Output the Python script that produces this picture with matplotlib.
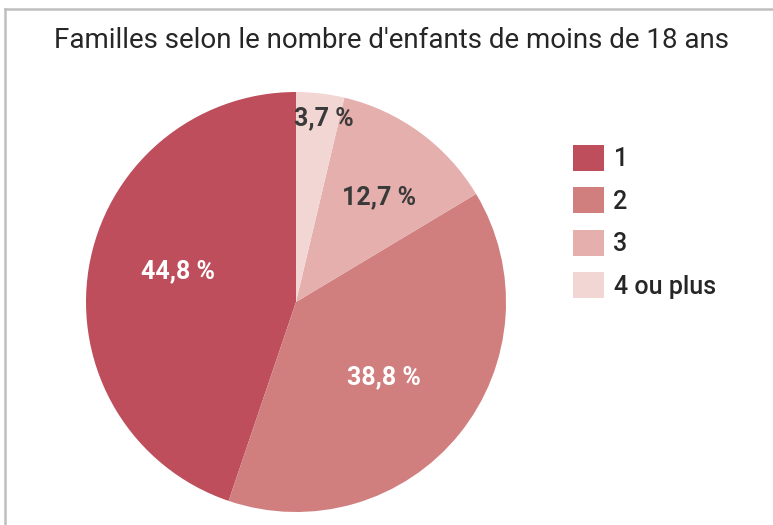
import numpy as np
import matplotlib.pyplot as plt
from matplotlib.patches import Patch
from matplotlib.lines import Line2D

# data
categories = ['1', '2', '3', '4 ou plus']
values = [44.8, 38.8, 12.7, 3.7]
value_labels = ['44,8 %', '38,8 %', '12,7 %', '3,7 %']

colors = ['#BE4E5C', '#D17E7E', '#E4AFAD', '#F2D6D4']
label_colors = ['white', 'white', '#3A3A3A', '#3A3A3A']
# label placement: distance from centre along the wedge middle, plus a small nudge
label_dist = [0.57, 0.54, 0.62, 0.88]
label_nudge = [(0.0, 0.055), (0.0, -0.02), (0.03, 0.0), (0.03, 0.0)]

plt.rcParams['font.family'] = ['Roboto', 'DejaVu Sans']

W, H = 773, 525
fig = plt.figure(figsize=(W / 100, H / 100), dpi=100)

# pie axes: centre (296, 302) px, radius 210 px
cx, cy, r = 296, 302, 210
ax = fig.add_axes([(cx - r) / W, (H - cy - r) / H, 2 * r / W, 2 * r / H])
wedges, _ = ax.pie(values, colors=colors, startangle=90, counterclock=True,
                   radius=1, wedgeprops=dict(linewidth=0))
ax.set_xlim(-1, 1)
ax.set_ylim(-1, 1)
ax.set_aspect('equal')
ax.axis('off')

for w, lab, c, d, (dx, dy) in zip(wedges, value_labels, label_colors, label_dist, label_nudge):
    ang = np.deg2rad((w.theta1 + w.theta2) / 2)
    ax.text(d * np.cos(ang) + dx, d * np.sin(ang) + dy, lab,
            ha='center', va='center', color=c, fontsize=18, fontweight='bold')

fig.text(392 / W, 1 - 40 / H, "Familles selon le nombre d'enfants de moins de 18 ans",
         ha='center', va='center', fontsize=20, color='#262626')

handles = [Patch(facecolor=c, edgecolor='none') for c in colors]
fig.legend(handles, categories, loc='upper left', bbox_to_anchor=(550 / W, 1 - 122 / H),
           frameon=False, prop=dict(size=18, weight='medium'), handlelength=1.24,
           handleheight=1.24, labelspacing=0.64, handletextpad=0.4, borderpad=0.4,
           labelcolor='#262626')

# border of the screenshot (top and left only)
fig.add_artist(Line2D([5 / W, 1], [1 - 9 / H, 1 - 9 / H], color='#BFBFBF', lw=1.8,
                      transform=fig.transFigure))
fig.add_artist(Line2D([5 / W, 5 / W], [0, 1 - 9 / H], color='#BFBFBF', lw=1.8,
                      transform=fig.transFigure))

fig.savefig('out.png', dpi=100)
